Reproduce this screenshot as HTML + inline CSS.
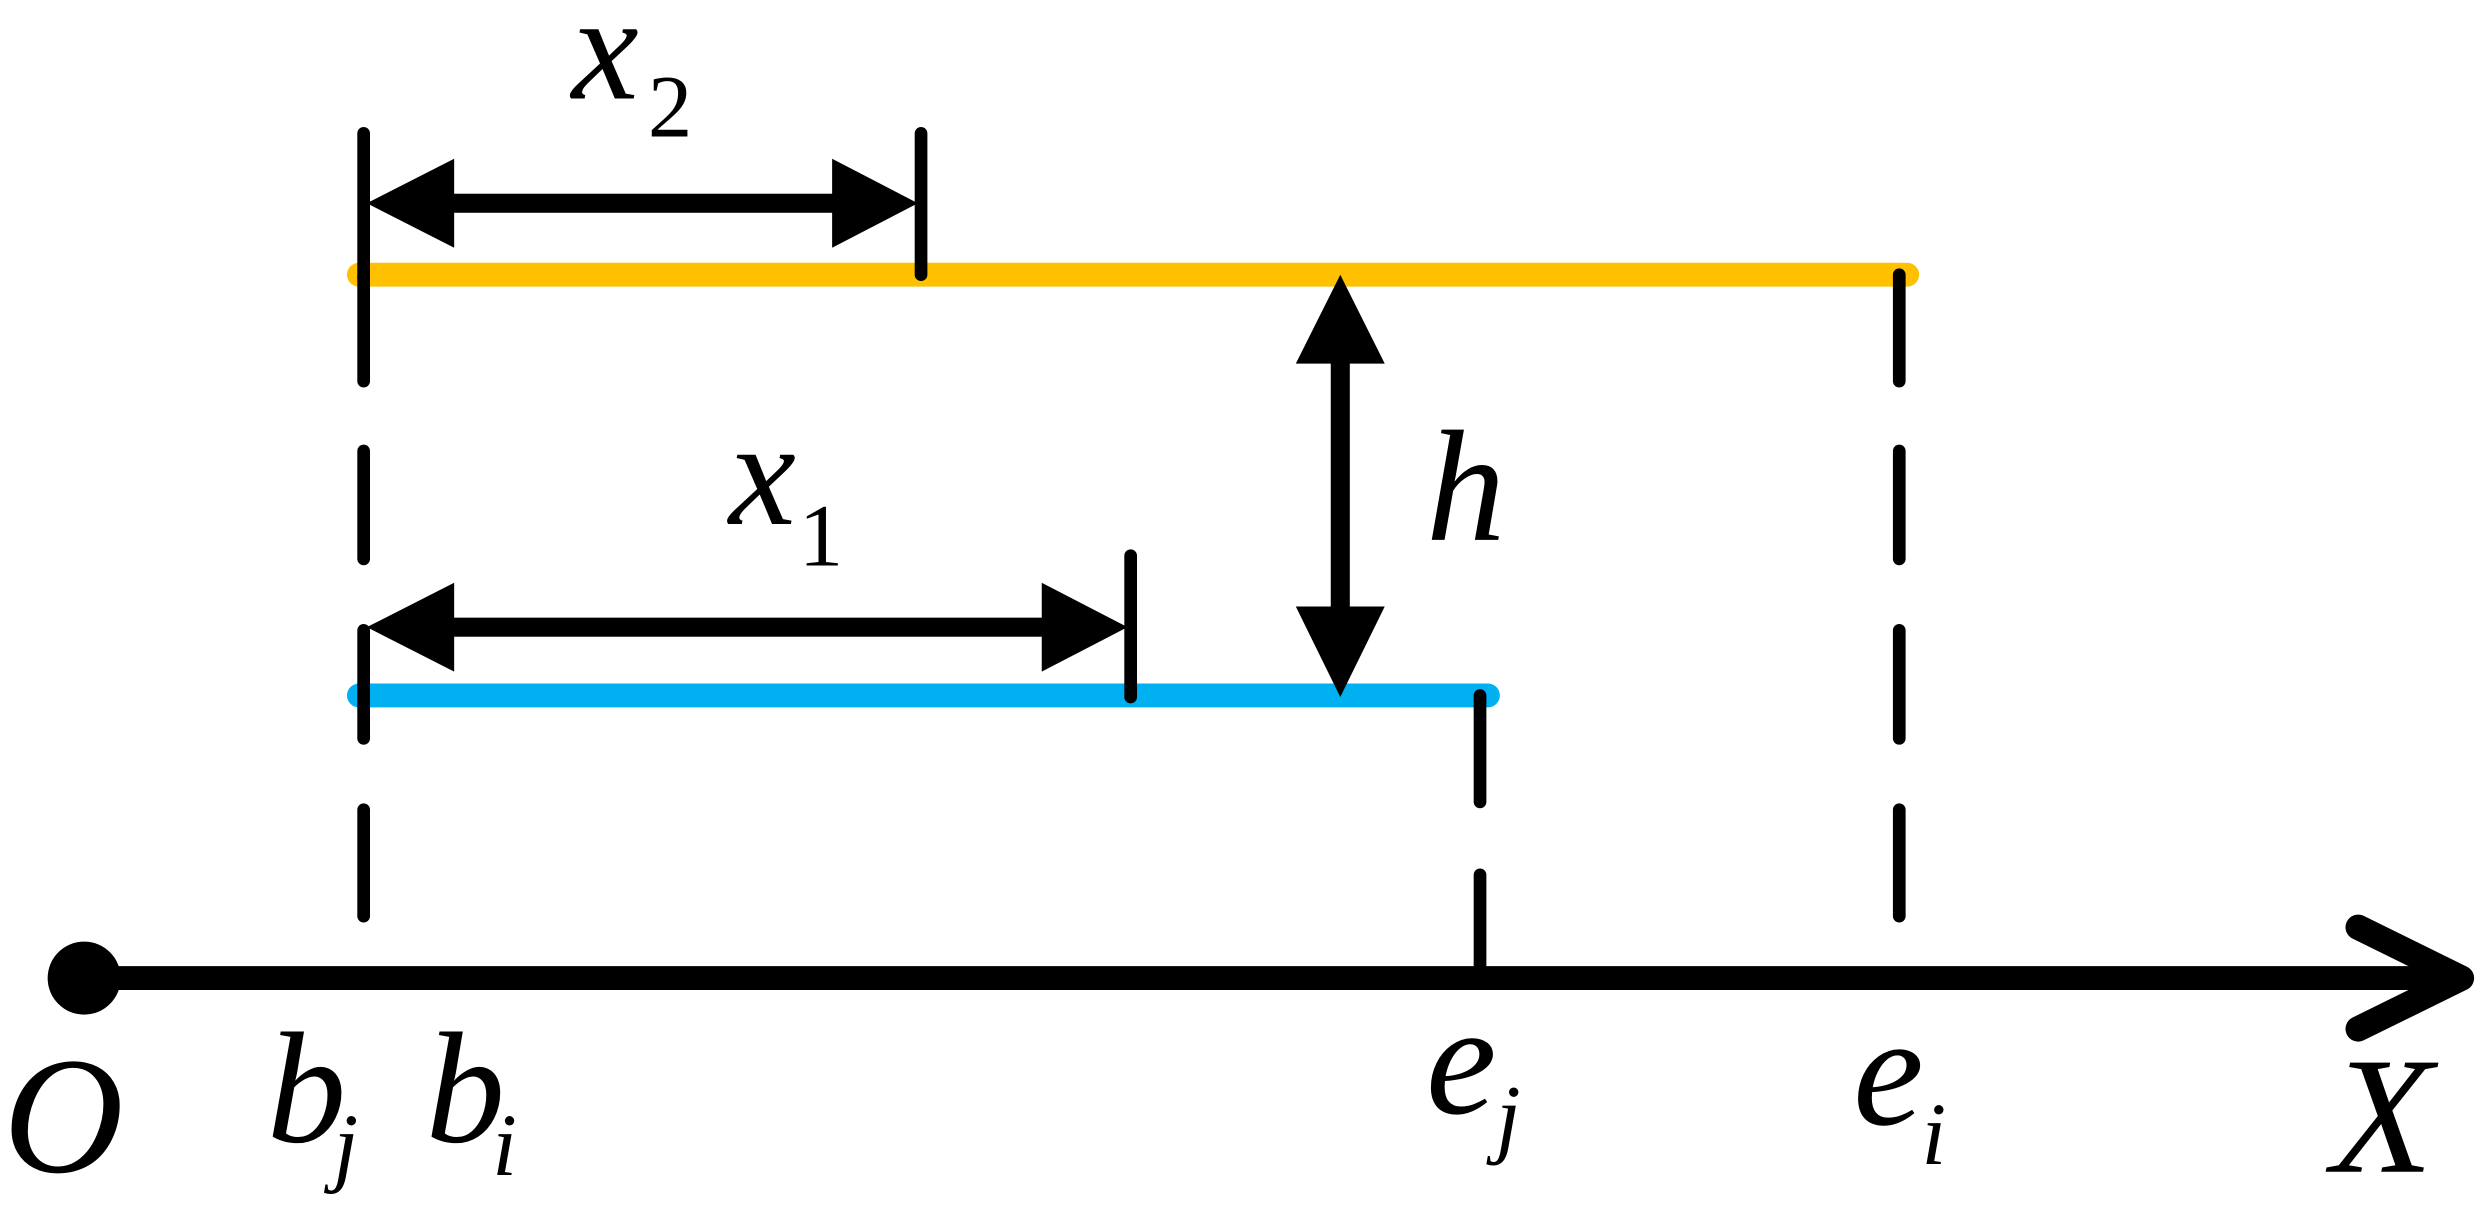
<!DOCTYPE html>
<html><head><meta charset="utf-8"><style>html,body{margin:0;padding:0;background:#fff}svg{display:block}</style></head>
<body>
<svg width="2490" height="1225" viewBox="0 0 1568 771.5" preserveAspectRatio="none" xmlns="http://www.w3.org/2000/svg">
<g stroke-linecap="round">
<line x1="226" y1="173" x2="1201" y2="173" stroke="#FFC000" stroke-width="15"/>
<line x1="226" y1="438" x2="937" y2="438" stroke="#00B0F0" stroke-width="15"/>
<line x1="55" y1="616" x2="1545" y2="616" stroke="#000" stroke-width="15" stroke-linecap="butt"/>
<polyline points="1485,584 1550,616 1485,648" fill="none" stroke="#000" stroke-width="16" stroke-linejoin="round"/>
</g>
<circle cx="53" cy="616" r="23" fill="#000"/>
<g stroke="#000" stroke-linecap="round" stroke-width="8">
<line x1="229" y1="84" x2="229" y2="175"/>
<line x1="229" y1="174" x2="229" y2="240"/>
<line x1="229" y1="284" x2="229" y2="352"/>
<line x1="229" y1="397" x2="229" y2="465"/>
<line x1="229" y1="510" x2="229" y2="577"/>
<line x1="580" y1="84" x2="580" y2="173"/>
<line x1="712" y1="350" x2="712" y2="439"/>
<line x1="932" y1="438" x2="932" y2="505"/>
<line x1="932" y1="551" x2="932" y2="612"/>
<line x1="1196" y1="173" x2="1196" y2="240"/>
<line x1="1196" y1="284" x2="1196" y2="352"/>
<line x1="1196" y1="397" x2="1196" y2="465"/>
<line x1="1196" y1="510" x2="1196" y2="577"/>
</g>
<g fill="#000">
<rect x="280" y="122" width="250" height="12"/>
<polygon points="231,128 286,100 286,156"/>
<polygon points="578,128 524,100 524,156"/>
<rect x="280" y="389" width="382" height="12"/>
<polygon points="231,395 286,367 286,423"/>
<polygon points="710,395 656,367 656,423"/>
<rect x="838" y="224" width="12" height="162"/>
<polygon points="844,173 816,229 872,229"/>
<polygon points="844,439 816,382 872,382"/>
</g>
<g font-family="Liberation Serif, serif" fill="#000">
<text x="360" y="62" font-size="95" font-style="italic">x</text>
<text x="408" y="86" font-size="56">2</text>
<text x="459" y="330" font-size="95" font-style="italic">x</text>
<text x="503" y="356" font-size="56">1</text>
<text x="898" y="340" font-size="100" font-style="italic">h</text>
<text x="2" y="738" font-size="105" font-style="italic">O</text>
<text x="168" y="719" font-size="100" font-style="italic">b</text>
<text x="210" y="740" font-size="56" font-style="italic">j</text>
<text x="268" y="719" font-size="100" font-style="italic">b</text>
<text x="310" y="740" font-size="56" font-style="italic">i</text>
<text x="898" y="701" font-size="100" font-style="italic">e</text>
<text x="942" y="722" font-size="56" font-style="italic">j</text>
<text x="1167" y="708" font-size="100" font-style="italic">e</text>
<text x="1210" y="733" font-size="56" font-style="italic">i</text>
<text x="1468" y="738" font-size="105" font-style="italic">X</text>
</g>
</svg>
</body></html>
